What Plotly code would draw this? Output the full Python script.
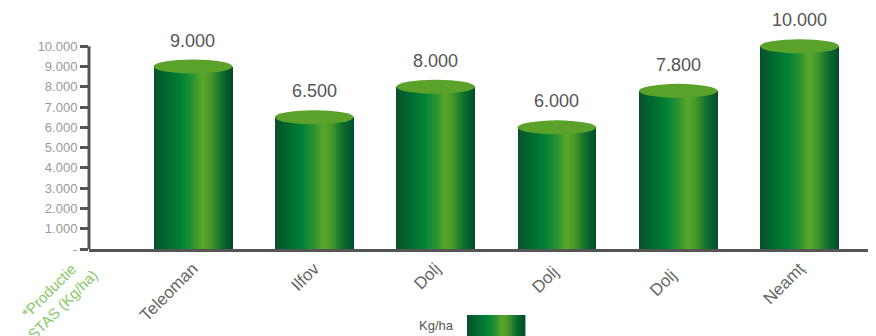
import plotly.graph_objects as go

# data
regions = ["Teleoman", "Ilfov", "Dolj", "Dolj ", "Dolj  ", "Neamț"]
values = [9000, 6500, 8000, 6000, 7800, 10000]
value_labels = ["9.000", "6.500", "8.000", "6.000", "7.800", "10.000"]
y_ticks = [0, 1000, 2000, 3000, 4000, 5000, 6000, 7000, 8000, 9000, 10000]
y_ticktext = ["-", "1.000", "2.000", "3.000", "4.000", "5.000",
              "6.000", "7.000", "8.000", "9.000", "10.000"]

# cylinder gradient (left -> right)
stops = [(0.0, (10, 79, 43)), (0.15, (0, 103, 47)), (0.35, (0, 130, 54)),
         (0.5, (42, 146, 48)), (0.62, (92, 166, 40)), (0.72, (70, 152, 42)),
         (0.87, (10, 108, 47)), (1.0, (0, 77, 39))]


def grad(t):
    for (p0, c0), (p1, c1) in zip(stops[:-1], stops[1:]):
        if p0 <= t <= p1:
            f = (t - p0) / (p1 - p0)
            c = [round(a + (b - a) * f) for a, b in zip(c0, c1)]
            return "rgb(%d,%d,%d)" % tuple(c)
    return "rgb(%d,%d,%d)" % stops[-1][1]


bar_w = 0.65
n_strips = 40
sw = bar_w / n_strips

fig = go.Figure()
for k in range(n_strips):
    fig.add_trace(go.Bar(
        x=regions, y=values,
        offset=-bar_w / 2 + k * sw, width=sw * 1.05,
        marker=dict(color=grad((k + 0.5) / n_strips), line=dict(width=0)),
        showlegend=False, hoverinfo="skip"))

shapes = []
# top ellipses of the cylinders
for i, v in enumerate(values):
    shapes.append(dict(type="circle", xref="x", yref="y", ysizemode="pixel",
                       yanchor=v, y0=-7, y1=7,
                       x0=i - bar_w / 2, x1=i + bar_w / 2,
                       fillcolor="#5ba22a", line=dict(width=0), layer="above"))

# y axis line only up to 10.000
shapes.append(dict(type="line", xref="paper", yref="y", x0=0, x1=0, y0=0, y1=10000,
                   line=dict(color="#555555", width=3)))

# legend swatch (page body adds 8px offset; plot area starts at x=89, bottom y=249)
lx0, lx1 = (467 - 89) / 787, (524 - 89) / 787
ly0, ly1 = (249 - 340) / 223, (249 - 315) / 223
nl = 24
for k in range(nl):
    shapes.append(dict(type="rect", xref="paper", yref="paper",
                       x0=lx0 + (lx1 - lx0) * k / nl, x1=lx0 + (lx1 - lx0) * (k + 1.6) / nl,
                       y0=ly0, y1=ly1, fillcolor=grad((k + 0.5) / nl), line=dict(width=0)))

annotations = []
for i, (v, t) in enumerate(zip(values, value_labels)):
    annotations.append(dict(x=i, y=v, text=t, showarrow=False, yanchor="middle",
                            yshift=26, font=dict(size=18, color="#555555")))

annotations.append(dict(xref="paper", yref="paper", x=(456 - 89) / 787, y=(249 - 325) / 223,
                        xanchor="right", yanchor="middle", text="Kg/ha", showarrow=False,
                        font=dict(size=13, color="#555555")))
annotations.append(dict(xref="paper", yref="paper", x=(55 - 89) / 787, y=(249 - 298) / 223,
                        xanchor="center", yanchor="middle", textangle=-45,
                        text="*Productie<br>STAS (Kg/ha)", showarrow=False,
                        font=dict(size=15, color="#86c866")))

fig.update_layout(
    width=868, height=328,
    margin=dict(l=81, r=0, t=18, b=87),
    paper_bgcolor="white", plot_bgcolor="white",
    barmode="overlay", bargap=0,
    font=dict(family="Liberation Sans, Arial, sans-serif"),
    xaxis=dict(range=[-0.857, 5.63], showgrid=False, showline=True,
               linecolor="#555555", linewidth=3, tickangle=-45, automargin=False,
               tickfont=dict(size=17, color="#666666"), ticks=""),
    yaxis=dict(range=[0, 11000], tickvals=y_ticks, ticktext=y_ticktext,
               showgrid=False, zeroline=False, showline=False, automargin=False,
               ticks="outside", ticklen=8, tickwidth=3, tickcolor="#555555",
               tickfont=dict(size=13, color="#999999")),
    shapes=shapes, annotations=annotations,
)

fig.write_html("out.html")
